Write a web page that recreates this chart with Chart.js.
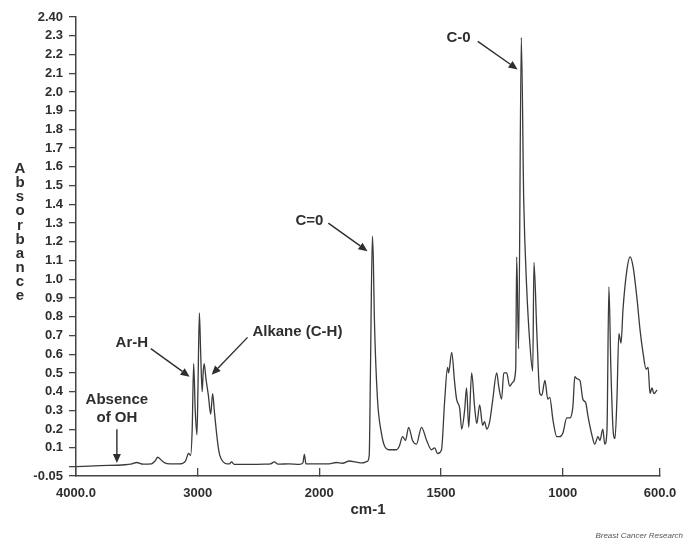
<!DOCTYPE html>
<html>
<head>
<meta charset="utf-8">
<script src="https://cdn.jsdelivr.net/npm/chart.js@4.4.0/dist/chart.umd.min.js"></script>
<style>
  html, body { margin: 0; padding: 0; background: #fff; }
  #wrap { position: relative; width: 685px; height: 541px; }
</style>
</head>
<body>
<div id="wrap"><canvas id="irChart" width="685" height="541"></canvas></div>
<script>
// Spectrum: wavenumber (cm-1) and absorbance
const wavenumbers = [
    4000, 3800, 3600, 3540, 3500, 3450, 3380, 3350, 3328, 3300, 3270, 3230, 3150, 3100, 3075, 3058,
    3045, 3033, 3020, 3006, 2998, 2986, 2975, 2963, 2955, 2947, 2932, 2912, 2893, 2877, 2862, 2845,
    2830, 2818, 2790, 2760, 2738, 2722, 2700, 2575, 2450, 2400, 2370, 2340, 2250, 2165, 2135, 2123,
    2110, 2040, 2000, 1960, 1930, 1905, 1876, 1852, 1823, 1803, 1795, 1790, 1782, 1778, 1774, 1761,
    1745, 1732, 1712, 1683, 1671, 1658, 1646, 1633, 1617, 1601, 1580, 1559, 1539, 1526, 1514, 1498,
    1485, 1473, 1469, 1456, 1444, 1436, 1423, 1415, 1403, 1395, 1386, 1374, 1362, 1353, 1341, 1329,
    1321, 1312, 1300, 1288, 1271, 1263, 1251, 1242, 1230, 1218, 1205, 1193, 1189, 1181, 1170, 1160,
    1148, 1135, 1123, 1118, 1106, 1094, 1086, 1073, 1061, 1053, 1040, 1024, 1012, 999, 983, 970,
    958, 950, 942, 929, 917, 905, 896, 880, 868, 855, 847, 835, 827, 818, 810, 802,
    793, 785, 777, 769, 760, 752, 736, 723, 711, 694, 682, 670, 657, 649, 641, 633,
    625, 612
];
const absorbance = [
    0.00, 0.005, 0.01, 0.015, 0.022, 0.013, 0.015, 0.03, 0.05, 0.035, 0.02, 0.015, 0.015, 0.03, 0.07, 0.06,
    0.20, 0.55, 0.30, 0.17, 0.40, 0.82, 0.60, 0.40, 0.50, 0.55, 0.47, 0.38, 0.28, 0.39, 0.29, 0.18,
    0.10, 0.06, 0.025, 0.015, 0.015, 0.025, 0.012, 0.012, 0.013, 0.015, 0.025, 0.013, 0.015, 0.012, 0.02, 0.065,
    0.015, 0.015, 0.015, 0.015, 0.022, 0.018, 0.03, 0.025, 0.02, 0.028, 0.06, 0.50, 1.23, 1.10, 0.80, 0.36,
    0.18, 0.11, 0.09, 0.09, 0.11, 0.16, 0.14, 0.21, 0.14, 0.12, 0.21, 0.14, 0.09, 0.10, 0.07, 0.09,
    0.35, 0.53, 0.50, 0.61, 0.45, 0.36, 0.31, 0.20, 0.30, 0.42, 0.21, 0.50, 0.32, 0.23, 0.33, 0.22,
    0.24, 0.20, 0.24, 0.35, 0.50, 0.43, 0.36, 0.50, 0.50, 0.43, 0.45, 0.52, 1.12, 0.63, 2.29, 1.42,
    0.96, 0.66, 0.51, 1.09, 0.71, 0.39, 0.38, 0.46, 0.36, 0.37, 0.25, 0.16, 0.16, 0.18, 0.26, 0.26,
    0.32, 0.48, 0.47, 0.46, 0.36, 0.34, 0.27, 0.17, 0.12, 0.16, 0.14, 0.20, 0.12, 0.19, 0.96, 0.53,
    0.20, 0.15, 0.36, 0.71, 0.66, 0.84, 1.05, 1.12, 1.07, 0.89, 0.73, 0.61, 0.52, 0.53, 0.39, 0.42,
    0.39, 0.41
];

const xTicks = [4000, 3000, 2000, 1500, 1000, 600];
const xTickLabels = ['4000.0', '3000', '2000', '1500', '1000', '600.0'];
const yTicks = [-0.05, 0, 0.1, 0.2, 0.3, 0.4, 0.5, 0.6, 0.7, 0.8, 0.9, 1.0, 1.1, 1.2,
    1.3, 1.4, 1.5, 1.6, 1.7, 1.8, 1.9, 2.0, 2.1, 2.2, 2.3, 2.4];
const yTickLabels = ['-0.05', '', '0.1', '0.2', '0.3', '0.4', '0.5', '0.6', '0.7', '0.8', '0.9', '1.0', '1.1', '1.2',
    '1.3', '1.4', '1.5', '1.6', '1.7', '1.8', '1.9', '2.0', '2.1', '2.2', '2.3', '2.40'];

// Peak labels: text anchor and arrow, all in (cm-1, absorbance)
const noteLines = [['Absence', 'of OH'], ['Ar-H'], ['Alkane (C-H)'], ['C=0'], ['C-0']];
const noteAt = [[3664, 0.356], [3541, 0.66], [2180, 0.72], [2082, 1.31], [1428, 2.29]];
const arrowFrom = [[3664, 0.20], [3385, 0.63], [2590, 0.69], [1963, 1.30], [1349, 2.27]];
const arrowTo = [[3664, 0.02], [3066, 0.48], [2885, 0.49], [1802, 1.15], [1185, 2.12]];

// the spectrometer plots 4000-2000 at half the scale of 2000-600
const BREAK = 2000;
function squeeze(v) { return v > BREAK ? BREAK + (v - BREAK) / 2 : v; }
function unsqueeze(u) { return u > BREAK ? BREAK + (u - BREAK) * 2 : u; }

class IrScale extends Chart.LinearScale {
    getPixelForValue(value) {
        if (value === null || isNaN(value)) return NaN;
        const a = squeeze(this.min), b = squeeze(this.max);
        return this.getPixelForDecimal((squeeze(value) - a) / (b - a));
    }
    getValueForPixel(pixel) {
        const a = squeeze(this.min), b = squeeze(this.max);
        return unsqueeze(a + this.getDecimalForPixel(pixel) * (b - a));
    }
}
IrScale.id = 'ir';
IrScale.defaults = {};
Chart.register(IrScale);

const ink = '#2e2e2e';
const bold = (size) => ({ family: '"Liberation Sans", Arial, sans-serif', weight: 'bold', size: size });

function arrow(ctx, x1, y1, x2, y2) {
    const ang = Math.atan2(y2 - y1, x2 - x1);
    const len = 9, half = 4;
    const bx = x2 - len * Math.cos(ang), by = y2 - len * Math.sin(ang);
    ctx.beginPath();
    ctx.moveTo(x1, y1);
    ctx.lineTo(bx, by);
    ctx.stroke();
    ctx.beginPath();
    ctx.moveTo(x2, y2);
    ctx.lineTo(bx + half * Math.sin(ang), by - half * Math.cos(ang));
    ctx.lineTo(bx - half * Math.sin(ang), by + half * Math.cos(ang));
    ctx.closePath();
    ctx.fill();
}

const extras = {
    id: 'extras',
    afterDraw(chart) {
        const { ctx, chartArea, scales: { x, y } } = chart;
        ctx.save();
        ctx.fillStyle = ink;
        ctx.strokeStyle = ink;
        ctx.lineWidth = 1.4;
        ctx.textAlign = 'center';
        ctx.textBaseline = 'middle';

        // y title, one letter per line
        ctx.font = 'bold 15px "Liberation Sans", Arial, sans-serif';
        const word = 'Absorbance';
        const midY = (chartArea.top + chartArea.bottom) / 2 - 14;
        for (let i = 0; i < word.length; i++) {
            ctx.fillText(word[i], y.left - 13, midY + (i - (word.length - 1) / 2) * 14.1);
        }

        // peak labels
        noteLines.forEach((lines, i) => {
            const tx = x.getPixelForValue(noteAt[i][0]);
            const ty = y.getPixelForValue(noteAt[i][1]);
            lines.forEach((s, k) => ctx.fillText(s, tx, ty + k * 18));
            arrow(ctx,
                x.getPixelForValue(arrowFrom[i][0]), y.getPixelForValue(arrowFrom[i][1]),
                x.getPixelForValue(arrowTo[i][0]), y.getPixelForValue(arrowTo[i][1]));
        });

        // journal credit
        ctx.font = 'italic 8px "Liberation Sans", Arial, sans-serif';
        ctx.fillStyle = '#555';
        ctx.textAlign = 'right';
        ctx.fillText('Breast Cancer Research', chart.width - 2, chart.height - 5);
        ctx.restore();
    }
};

new Chart(document.getElementById('irChart'), {
    type: 'line',
    data: {
        datasets: [{
            data: wavenumbers.map((w, i) => ({ x: w, y: absorbance[i] })),
            borderColor: '#3a3a3a',
            borderWidth: 1.3,
            pointRadius: 0,
            cubicInterpolationMode: 'monotone',
            fill: false
        }]
    },
    options: {
        responsive: false,
        animation: false,
        events: [],
        layout: { padding: { left: 33, right: 25, top: 17, bottom: 18 } },
        plugins: { legend: { display: false }, tooltip: { enabled: false } },
        scales: {
            x: {
                type: 'ir',
                reverse: true,
                min: 600,
                max: 4000,
                afterBuildTicks: (s) => { s.ticks = xTicks.map(v => ({ value: v })); },
                afterFit: (s) => {
                    s.height = 47;
                    // big tick padding is only there to clear the inward ticks
                    s.paddingLeft = 20;
                    s.paddingRight = 20;
                },
                ticks: {
                    autoSkip: false,
                    maxRotation: 0,
                    padding: 18,
                    color: ink,
                    font: bold(13),
                    callback: (v, i) => xTickLabels[i]
                },
                grid: { drawOnChartArea: false, tickLength: -8, color: '#444', lineWidth: 1.3 },
                border: { color: '#444', width: 1.5 },
                title: { display: true, text: 'cm-1', color: ink, font: bold(15), padding: { top: 0, bottom: 4 } }
            },
            y: {
                min: -0.05,
                max: 2.4,
                afterBuildTicks: (s) => { s.ticks = yTicks.map(v => ({ value: v })); },
                afterFit: (s) => { s.width = 43; },
                ticks: {
                    autoSkip: false,
                    padding: 6,
                    color: ink,
                    font: bold(13),
                    callback: (v, i) => yTickLabels[i]
                },
                grid: { drawOnChartArea: false, tickLength: 7, color: '#444', lineWidth: 1.3 },
                border: { color: '#444', width: 1.5 }
            }
        }
    },
    plugins: [extras]
});
</script>
</body>
</html>
